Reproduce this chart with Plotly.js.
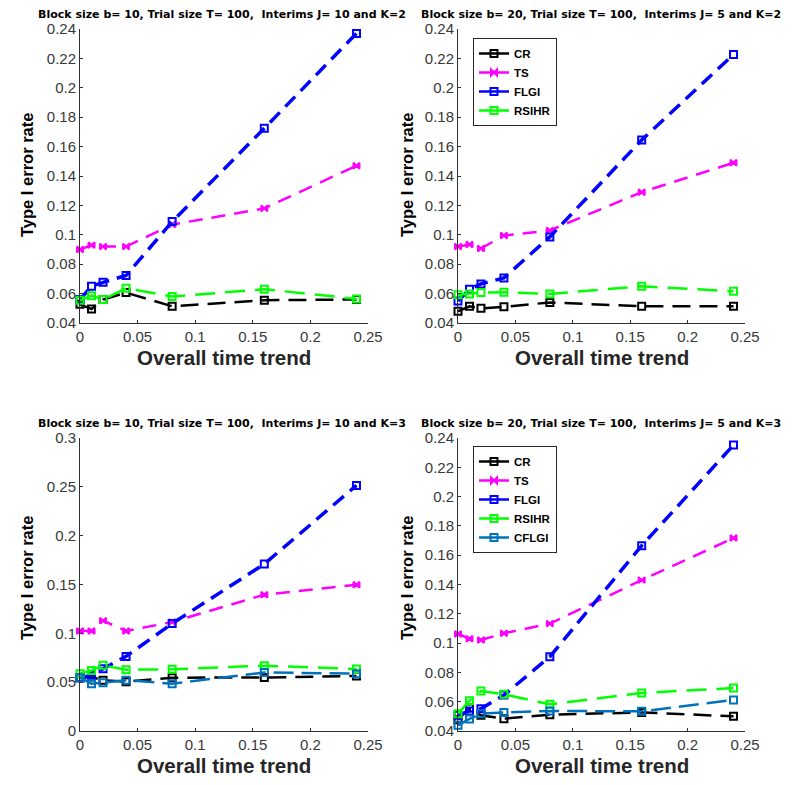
<!DOCTYPE html>
<html>
<head>
<meta charset="utf-8">
<script src="https://cdn.plot.ly/plotly-3.0.1.min.js"></script>
<style>html,body{margin:0;padding:0;background:#fff;}#chart{width:800px;height:785px;}</style>
</head>
<body>
<div id="chart"></div>
<script>
// Overall time trend values (x)
const trend = [0, 0.01, 0.02, 0.04, 0.08, 0.16, 0.24];

// Panel A: b=10, J=10, K=2
const A_CR    = [0.0527, 0.0495, 0.0560, 0.0607, 0.0514, 0.0555, 0.0560];
const A_TS    = [0.0900, 0.0930, 0.0920, 0.0920, 0.1070, 0.1180, 0.1470];
const A_FLGI  = [0.0560, 0.0650, 0.0677, 0.0723, 0.1090, 0.1725, 0.2370];
const A_RSIHR = [0.0555, 0.0586, 0.0560, 0.0636, 0.0580, 0.0630, 0.0564];

// Panel B: b=20, J=5, K=2
const B_CR    = [0.0480, 0.0514, 0.0500, 0.0510, 0.0540, 0.0514, 0.0514];
const B_TS    = [0.0920, 0.0934, 0.0907, 0.0995, 0.1030, 0.1290, 0.1490];
const B_FLGI  = [0.0550, 0.0630, 0.0666, 0.0707, 0.0986, 0.1645, 0.2227];
const B_RSIHR = [0.0593, 0.0598, 0.0607, 0.0610, 0.0598, 0.0650, 0.0616];

// Panel C: b=10, J=10, K=3
const C_CR    = [0.0546, 0.0553, 0.0520, 0.0505, 0.0546, 0.0548, 0.0563];
const C_TS    = [0.1024, 0.1024, 0.1130, 0.1024, 0.1116, 0.1396, 0.1498];
const C_FLGI  = [0.0546, 0.0570, 0.0638, 0.0764, 0.1100, 0.1710, 0.2515];
const C_RSIHR = [0.0587, 0.0620, 0.0672, 0.0628, 0.0631, 0.0669, 0.0635];
const C_CFLGI = [0.0546, 0.0485, 0.0495, 0.0520, 0.0485, 0.0600, 0.0587];

// Panel D: b=20, J=5, K=3
const D_CR    = [0.0477, 0.0557, 0.0507, 0.0484, 0.0511, 0.0527, 0.0500];
const D_TS    = [0.1062, 0.1030, 0.1021, 0.1067, 0.1133, 0.1430, 0.1717];
const D_FLGI  = [0.0507, 0.0537, 0.0552, 0.0645, 0.0907, 0.1665, 0.2352];
const D_RSIHR = [0.0518, 0.0607, 0.0673, 0.0650, 0.0582, 0.0660, 0.0693];
const D_CFLGI = [0.0439, 0.0482, 0.0518, 0.0527, 0.0537, 0.0534, 0.0612];

const panelTitles = [
  "Block size b= 10, Trial size T= 100,  Interims J= 10 and K=2",
  "Block size b= 20, Trial size T= 100,  Interims J= 5 and K=2",
  "Block size b= 10, Trial size T= 100,  Interims J= 10 and K=3",
  "Block size b= 20, Trial size T= 100,  Interims J= 5 and K=3"
];
const seriesNames = ["CR", "TS", "FLGI", "RSIHR", "CFLGI"];

const styles = {
  CR:    {color: "#000000", dash: "18px,9px",  width: 2.5, symbol: "square-open", size: 7},
  TS:    {color: "#FF00FF", dash: "14px,9px",  width: 2.5, symbol: "bowtie",      size: 6},
  FLGI:  {color: "#0000FF", dash: "14px,8px",  width: 3.5, symbol: "square-open", size: 7},
  RSIHR: {color: "#00FF00", dash: "20px,10px", width: 2.5, symbol: "square-open", size: 7},
  CFLGI: {color: "#0072BD", dash: "20px,8px",  width: 2.5, symbol: "square-open", size: 7}
};

function tr(name, y, ax) {
  const s = styles[name];
  return {
    type: "scatter", mode: "lines+markers", name: name,
    x: trend, y: y, xaxis: "x" + ax, yaxis: "y" + ax,
    line: {color: s.color, dash: s.dash, width: s.width},
    marker: {symbol: s.symbol, size: s.size, color: s.color, line: {color: s.color, width: 2}},
    cliponaxis: false,
    showlegend: false
  };
}
// legend key entries (no data; solid line sample like the reference keys)
function key(name, ax, leg) {
  const s = styles[name];
  return {
    type: "scatter", mode: "lines+markers", name: name,
    x: [null], y: [null], xaxis: "x" + ax, yaxis: "y" + ax,
    line: {color: s.color, width: 2.5},
    marker: {symbol: s.symbol, size: s.size, color: s.color, line: {color: s.color, width: 2}},
    showlegend: true, legend: leg
  };
}

const data = [];
const panels = [
  {ax: "", series: {CR: A_CR, TS: A_TS, FLGI: A_FLGI, RSIHR: A_RSIHR}, leg: null},
  {ax: "2", series: {CR: B_CR, TS: B_TS, FLGI: B_FLGI, RSIHR: B_RSIHR}, leg: "legend"},
  {ax: "3", series: {CR: C_CR, TS: C_TS, FLGI: C_FLGI, RSIHR: C_RSIHR, CFLGI: C_CFLGI}, leg: null},
  {ax: "4", series: {CR: D_CR, TS: D_TS, FLGI: D_FLGI, RSIHR: D_RSIHR, CFLGI: D_CFLGI}, leg: "legend2"}
];
panels.forEach(p => {
  seriesNames.forEach(n => {
    if (!p.series[n]) return;
    data.push(tr(n, p.series[n], p.ax));
    if (p.leg) data.push(key(n, p.ax, p.leg));
  });
});

const tickFont = {family: "Liberation Sans, Arial, sans-serif", size: 15, color: "#383838"};
function xa(domain, anchor) {
  return {domain: domain, anchor: anchor, range: [0, 0.25], dtick: 0.05, tick0: 0,
    showgrid: false, zeroline: false, showline: true, linecolor: "#303030", linewidth: 1,
    ticks: "inside", ticklen: 3, tickcolor: "#303030", tickfont: tickFont, mirror: false};
}
function ya(domain, anchor, range, dtick) {
  return {domain: domain, anchor: anchor, range: range, dtick: dtick, tick0: 0,
    showgrid: false, zeroline: false, showline: true, linecolor: "#303030", linewidth: 1,
    ticks: "inside", ticklen: 3, tickcolor: "#303030", tickfont: tickFont, mirror: false};
}

const xL = [0.1, 0.46], xR = [0.5725, 0.93125];
const yT = [0.5885, 0.963], yB = [0.0688, 0.442];

const titleFont = {family: "DejaVu Sans, Liberation Sans, Arial, sans-serif", size: 11, color: "#000"};
const xtFont = {family: "Liberation Sans, Arial, sans-serif", size: 20.5, color: "#262626"};
const ytFont = {family: "Liberation Sans, Arial, sans-serif", size: 16.5, color: "#000"};

const annotations = [];
const centers = [[222, 15], [601, 15], [222, 423], [601, 423]];
panelTitles.forEach((t, i) => {
  annotations.push({text: "<b>" + t + "</b>", xref: "paper", yref: "paper",
    x: centers[i][0] / 800, y: 1 - centers[i][1] / 785, xanchor: "center", yanchor: "middle",
    showarrow: false, font: titleFont});
});
const xtCenters = [[224, 357], [602, 357], [224, 765], [602, 765]];
xtCenters.forEach(c => annotations.push({text: "<b>Overall time trend</b>", xref: "paper", yref: "paper",
  x: c[0] / 800, y: 1 - c[1] / 785, xanchor: "center", yanchor: "middle", showarrow: false, font: xtFont}));
const ytCenters = [[27, 175], [407, 175], [27, 578], [407, 578]];
ytCenters.forEach(c => annotations.push({text: "<b>Type I error rate</b>", xref: "paper", yref: "paper",
  x: c[0] / 800, y: 1 - c[1] / 785, xanchor: "center", yanchor: "middle", textangle: -90,
  showarrow: false, font: ytFont}));

const legendBase = {
  bgcolor: "#ffffff", bordercolor: "#262626", borderwidth: 1,
  font: {family: "Liberation Sans, Arial, sans-serif", size: 11.5, color: "#000", weight: "bold"},
  xanchor: "left", yanchor: "top", tracegroupgap: 0, itemwidth: 30
};

const layout = {
  width: 800, height: 785,
  margin: {l: 0, r: 0, t: 0, b: 0},
  paper_bgcolor: "#ffffff", plot_bgcolor: "rgba(0,0,0,0)",
  showlegend: true,
  xaxis: xa(xL, "y"), yaxis: ya(yT, "x", [0.04, 0.24], 0.02),
  xaxis2: xa(xR, "y2"), yaxis2: ya(yT, "x2", [0.04, 0.24], 0.02),
  xaxis3: xa(xL, "y3"), yaxis3: ya(yB, "x3", [0, 0.3], 0.05),
  xaxis4: xa(xR, "y4"), yaxis4: ya(yB, "x4", [0.04, 0.24], 0.02),
  legend: Object.assign({}, legendBase, {x: 473 / 800, y: 1 - 38 / 785}),
  legend2: Object.assign({}, legendBase, {x: 473 / 800, y: 1 - 446 / 785}),
  annotations: annotations
};

Plotly.newPlot("chart", data, layout, {displayModeBar: false, staticPlot: true});
</script>
</body>
</html>
